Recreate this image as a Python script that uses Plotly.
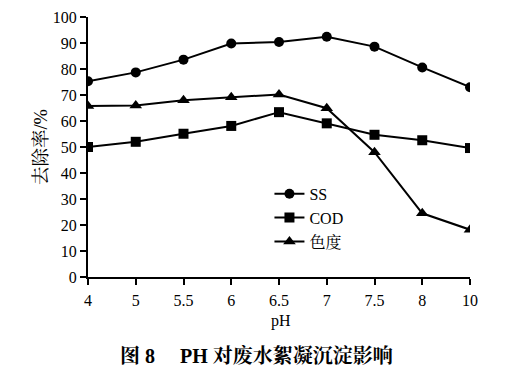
import plotly.graph_objects as go

ph_labels = ["4", "5", "5.5", "6", "6.5", "7", "7.5", "8", "10"]
ss = [75.3, 78.7, 83.6, 89.8, 90.4, 92.4, 88.6, 80.6, 73.0]
cod = [50.0, 52.0, 55.1, 58.1, 63.4, 59.1, 54.7, 52.6, 49.6]
color_deg = [65.8, 66.0, 68.0, 69.1, 70.2, 64.9, 48.0, 24.5, 18.2]

series_names = ["SS", "COD", "色度"]
symbols = ["circle", "square", "triangle-up"]
values = [ss, cod, color_deg]

serif = "'Liberation Serif', 'Noto Serif CJK SC', 'Noto Sans CJK SC', serif"

fig = go.Figure()
for i, (name, sym, vals) in enumerate(zip(series_names, symbols, values)):
    fig.add_trace(go.Scatter(
        x=ph_labels, y=vals, name=name, mode="lines+markers",
        line=dict(color="black", width=2),
        marker=dict(symbol=sym, size=10 if sym != "triangle-up" else 11, color="black"),
        legendgroup=f"g{i}",
    ))

fig.update_layout(
    width=514, height=381,
    margin=dict(l=80, r=52, t=9, b=112, autoexpand=False),
    paper_bgcolor="white", plot_bgcolor="white",
    font=dict(family=serif, size=16, color="black"),
    showlegend=True,
    legend=dict(x=0.475, y=0.385, xanchor="left", yanchor="top",
                bgcolor="rgba(0,0,0,0)", font=dict(size=16, family=serif),
                itemwidth=30, tracegroupgap=0),
    xaxis=dict(type="category", range=[0, 8], showline=True, linecolor="black",
               linewidth=2, ticks="outside", ticklen=6, tickwidth=2, tickcolor="black",
               showgrid=False, zeroline=False, tickfont=dict(size=16, family=serif),
               ticklabelstandoff=2, automargin=False, ticklabeloverflow="allow"),
    yaxis=dict(range=[0, 100], dtick=10, showline=True, linecolor="black",
               linewidth=2, ticks="outside", ticklen=6, tickwidth=2, tickcolor="black",
               showgrid=False, zeroline=False, tickfont=dict(size=16, family=serif),
               automargin=False, ticklabeloverflow="allow",
               title=dict(text="去除率/%", font=dict(size=18.5, family=serif), standoff=0)),
    annotations=[
        dict(text="pH", x=0.505, y=-0.21, xref="paper", yref="paper",
             showarrow=False, font=dict(size=16, family=serif)),
        dict(text="<b>图 8　 PH 对废水絮凝沉淀影响</b>", x=0.44, y=-0.354, xref="paper", yref="paper",
             showarrow=False, font=dict(size=20, family=serif)),
    ],
)

fig.write_html("out.html")
